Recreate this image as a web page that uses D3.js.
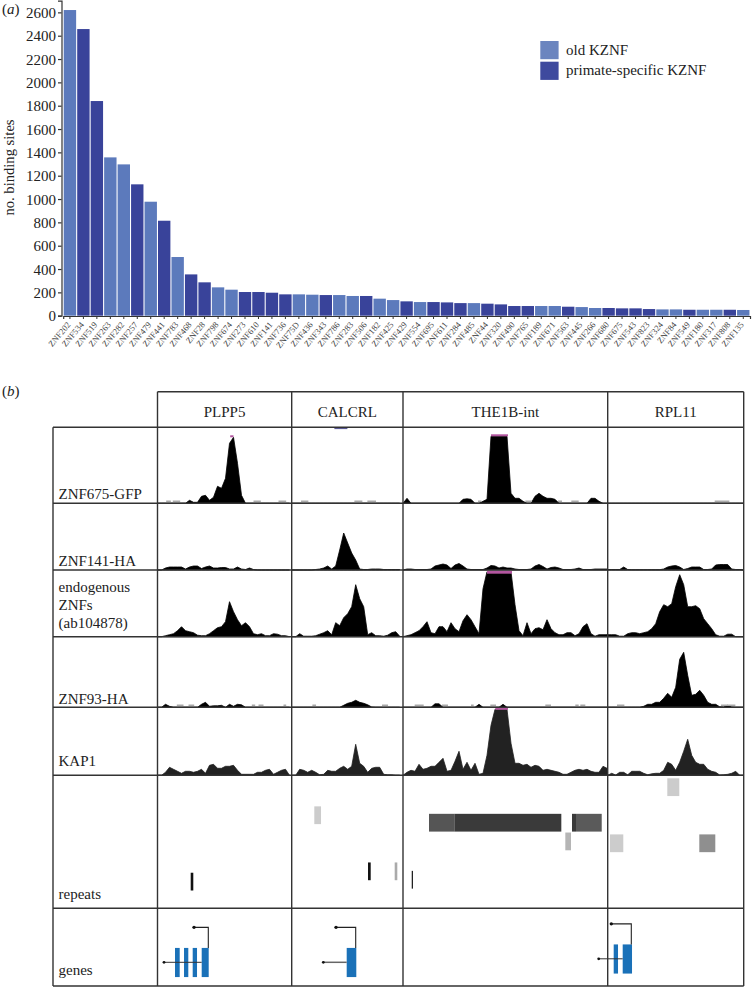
<!DOCTYPE html>
<html lang="en">
<head>
<meta charset="UTF-8">
<title>KZNF binding sites</title>
<script src="https://d3js.org/d3.v7.min.js"></script>
<style>
  html, body { margin: 0; padding: 0; background: #fff; }
  svg { display: block; }
  text { font-family: "Liberation Serif", serif; }
</style>
</head>
<body>
<script>
// panel a
const kznfNames = ["ZNF202","ZNF534","ZNF519","ZNF263","ZNF282","ZNF257","ZNF479","ZNF441","ZNF783","ZNF468","ZNF28","ZNF798","ZNF674","ZNF273","ZNF610","ZNF141","ZNF736","ZNF75D","ZNF436","ZNF343","ZNF786","ZNF283","ZNF506","ZNF182","ZNF425","ZNF429","ZNF554","ZNF695","ZNF611","ZNF284","ZNF485","ZNF44","ZNF320","ZNF490","ZNF765","ZNF189","ZNF671","ZNF563","ZNF445","ZNF266","ZNF680","ZNF675","ZNF543","ZNF823","ZNF324","ZNF84","ZNF549","ZNF180","ZNF317","ZNF808","ZNF135"];
const bindingSites = [2620,2457,1840,1357,1297,1126,977,814,503,354,286,243,223,203,203,197,183,183,180,177,177,169,169,146,134,123,117,117,114,108,108,103,97,83,83,83,83,77,74,66,66,63,63,57,54,54,51,51,51,51,49];
// 0 = old KZNF, 1 = primate-specific KZNF
const kznfAge = [0,1,1,0,0,1,0,1,0,1,1,0,0,1,1,1,1,0,0,1,0,0,1,0,0,1,0,1,1,1,0,1,1,1,1,0,0,1,0,0,1,1,1,1,0,0,1,0,0,1,0];
const ageLabels = ["old KZNF", "primate-specific KZNF"];
const yTicks = [0,200,400,600,800,1000,1200,1400,1600,1800,2000,2200,2400,2600];

// panel b
const loci = ["PLPP5", "CALCRL", "THE1B-int", "RPL11"];
const rowLabels = [["ZNF675-GFP"], ["ZNF141-HA"], ["endogenous", "ZNFs", "(ab104878)"], ["ZNF93-HA"], ["KAP1"], ["repeats"], ["genes"]];

// coverage per bin, one array per antibody and locus
const znf675Plpp5 = [0,0,0,0,0,0,0,0,3,1,1,7,8,3,6,17,15,25,60,66,40,8,0,0,0,0,0,0,0,0,0,0,0,0];
const znf675Calcrl = [0,0,0,0,0,0,0,0,0,0,0,0,0,0,0,0,0,0,0,0,0,0,0,0,0,0,0,0];
const znf675The1b = [0,5,0,0,0,0,0,0,0,0,0,0,0,0,0,4,4.5,4,0,0,2,4,67,67,67,67,67,10,5,5,2,0,0,7,10,7,5,5,4,0,0,0,0,0,0,0,0,5,5,2,0,0];
const znf675Rpl11 = [0,0,0,0,0,0,0,0,0,0,0,0,0,0,0,0,0,0,0,0,0,0,0,0,0,0,0,0,0,0,0,0,0,0,0];

const znf141Plpp5 = [0,0,2,3,3,3,3,1,3,4,4,1.5,3,4,2,2,2.5,2.5,1,1,3,1,0.5,2,0.5,0,0,0,0,0,0,0,0,0];
const znf141Calcrl = [0,0,0,0,0,0,0.5,1,2,4,1,4,20,37,27,17,10,1,0.5,0.5,1,1,1,0.5,0.5,0.5,0.5,0.5];
const znf141The1b = [0,1,1,0.5,0.5,0.5,0.5,1,4,5,6,5,1.5,5,6.5,4,1,0.5,0.5,0.5,0.5,2,4.5,4,2,3,2,2,1,0.5,0.5,0.5,1,4,5.5,3.5,1,2.5,3,2,0.5,0.5,0.5,1,2,0.5,0.5,0.5,1,1,1,1];
const znf141Rpl11 = [0.5,0.5,0.5,0.5,3,0.5,0.3,0.3,0.3,0.3,0.3,0.3,0.3,0.3,1,3,4,4.5,3,0.5,1.5,3,3,3,0.5,0.5,1,5,5.5,5.5,5.5,1,0.5,0.5,0];

const endoPlpp5 = [0,0,1,2,3,6,10,6,5,4,1.5,1,1,3,6,9,10,15,35,25,17,11,14,10,3,2,3,1,1,3,2.5,1,1,0];
const endoCalcrl = [0,0,3,0.5,0.5,0.5,1,2.5,4,6,2,14,11,19,23,30,52,38,30,2,4,1,1,0.5,1.5,4,5,0.5];
const endoThe1b = [0,1,2,4,6,10,15,4,3,10,10,5,14,8,5,16,22,17,10,3,48,65,65,65,65,65,65,65,32,6,1,14,3,8,9,7,17,8,4,2,2,4,4,1,3,10,13,3,0.5,2,2,2];
const endoRpl11 = [2,2,2,0.5,0.5,3,4,4,3,4,5,8,13,25,32,30,33,50,62,52,30,30,31,28,18,13,8,2,0.5,0.5,2.5,2.5,0,0,0];

const znf93Plpp5 = [0,0,3,1,0,0,0,0,0,0,0,3,5,1,1.5,1.5,2,0,3,1,3,2.5,0,0,0,0,0,0,0,0,0,0,0,0];
const znf93Calcrl = [0,0,0,0,0,0,0,0,0,0,0,0,0,2,4,5,7,5,4,2.5,0.3,0,0,0,0,0,0,0];
const znf93The1b = [0,0,0,0,0,0,0,0,3.5,3.5,0,0,0,0,0,0,0,0,0,3,0,0,0,0,0,3,0,0,0,0,0,0,0,0,0,0,0,0,0,0,0,0,0,0,0,0,0,0,0,0,0,0];
const znf93Rpl11 = [0,0,0,0,0,0,0,0,0,1,3,3,5,5,9,14,10,20,48,55,32,12,13,17,12,5,3,3,0.5,0.3,2,0.3,0,0,0];

const kap1Plpp5 = [0,0,3,8,6,4,2,4,4,3,4,6,2,10,11,7,7,9,9,10,5,1,1,1,1,3,3,5,6,1,3,5,6,0];
const kap1Calcrl = [0,0,6,5,3,5,3,0.5,1,5,4,4,7,9,6,9,31,12,9,3,7,8,8,1,0.5,0.5,0,0];
const kap1The1b = [0,3,5,4,11,6,7,9,9,13,17,4,5,14,24,6,13,5,12,1,2,20,50,66,66,66,66,32,12,12,10,11,8,10,9,5,6,5,4,3,1,1,3,5,6,5,6,4,3,3,9,7];
const kap1Rpl11 = [0,2,0.3,3,3,0.5,4,4,4,2,0.5,1.5,2,2,5,13,11,5,13,24,36,20,13,11,11,6,4,3,0.3,0.5,1,2,4,0,0];

// grey low-coverage stretches: [locus, from bin, to bin]
const lowZnf675 = [[0,2.17,3.33],[0,3.83,5.67],[0,24,25.83],[0,30.25,32.17],[1,2.33,4.17],[1,15.67,17.67],[1,18.92,21.08],[2,18.75,19.58],[2,30.58,32.25],[2,38.75,39.75],[2,42.08,43.92],[3,26.75,30.42]];
const lowZnf93 = [[0,4.83,6.5],[0,7.75,9.17],[0,23.58,24.42],[0,25.25,26.5],[0,31.5,32.17],[1,5.17,6.08],[1,22.58,24.08],[2,2.92,5.17],[2,9.75,11.25],[2,17,17.67],[2,21.83,23.25],[2,35.58,37],[2,43.08,43.92],[2,44.33,45.58],[3,2.33,4.17],[3,28.33,31.92]];

// clipped peak marks: [row, locus, from bin, to bin, top, bottom]
const clipMarks = [[0,0,18.17,19,68,66],[0,2,22,26.25,69,67],[2,2,21,27.25,66,63],[4,2,23.08,26.25,68,65.5]];

// repeats: [locus, from bin, to bin, lane, shade]
const repeatElements = [
  [0,8.3,8.95,5.05,"#111"],
  [1,5.65,7.33,1.5,"#ccc"],
  [1,19.08,19.75,4.5,"#111"],
  [1,25.75,26.4,4.5,"#aaa"],
  [2,2.18,2.5,4.95,"#222"],
  [2,6.5,12.83,1.9,"#555"],
  [2,12.83,39.58,1.9,"#3a3a3a"],
  [2,42.25,43.25,1.9,"#3a3a3a"],
  [2,43.25,49.68,1.9,"#5a5a5a"],
  [2,40.58,42,2.9,"#b5b5b5"],
  [3,14.9,17.9,0,"#ccc"],
  [3,0.58,3.9,3,"#ccc"],
  [3,22.9,26.9,3,"#8f8f8f"]
];

// genes: exons [locus, from bin, to bin], one intron and one TSS arrow per gene
const exons = [[0,4.375,5.55],[0,6.63,7.7],[0,8.8,9.88],[0,11.05,12.8],[1,13.75,16.15],[3,1.5,2.58],[3,3.75,6.08]];
const introns = [[0,1.63,11.05],[1,7.9,13.75],[3,-2.25,3.75]];
const tssArrows = [[0,12.7,9.13],[1,16,11.08],[3,5.9,0.9]];

const width = 752, height = 997;
const svg = d3.select("body").append("svg").attr("width", width).attr("height", height);

// ---------- panel a ----------
const x = d3.scaleBand().domain(kznfNames).range([63.2, 750]).paddingInner(0.08).paddingOuter(0.04);
const y = d3.scaleLinear().domain([0, 2700]).range([315.7, 0.7]);
const ageColor = d3.scaleOrdinal().domain([0, 1]).range(["#5c7abc", "#39439a"]);

svg.selectAll("rect.bar").data(kznfNames).enter().append("rect")
  .attr("class", "bar")
  .attr("x", d => x(d))
  .attr("y", (d, i) => y(bindingSites[i]))
  .attr("width", x.bandwidth())
  .attr("height", (d, i) => y(0) - y(bindingSites[i]))
  .attr("fill", (d, i) => ageColor(kznfAge[i]));

const yAxis = svg.append("g").attr("transform", "translate(61.5,0)")
  .call(d3.axisLeft(y).tickValues(yTicks).tickSize(3.5).tickFormat(d3.format("d")));
yAxis.selectAll("text").attr("font-size", 15).attr("fill", "#222").attr("x", -5.5).attr("dy", "0.34em")
  .style("font-family", '"Liberation Serif", serif');
yAxis.selectAll("line,path").attr("stroke", "#333").attr("stroke-width", 1.2);

const xAxis = svg.append("g").attr("transform", "translate(0,316)")
  .call(d3.axisBottom(x).tickSize(3));
xAxis.selectAll("line,path").attr("stroke", "#333");
xAxis.select("path").attr("stroke-width", 1.2);
xAxis.selectAll("text")
  .attr("font-size", 8.6).attr("fill", "#444")
  .style("font-family", '"Liberation Serif", serif')
  .attr("text-anchor", "end")
  .attr("x", 0).attr("y", 0).attr("dy", 0)
  .attr("transform", "translate(1,9) rotate(-50)");

svg.append("text").attr("transform", "translate(13.5,167.5) rotate(-90)")
  .attr("text-anchor", "middle").attr("font-size", 14.6).attr("fill", "#222").text("no. binding sites");

function panelTag(letter, ty) {
  const t = svg.append("text").attr("x", 2).attr("y", ty).attr("font-size", 15).attr("fill", "#222");
  t.append("tspan").text("(");
  t.append("tspan").attr("font-style", "italic").text(letter);
  t.append("tspan").text(")");
}
panelTag("a", 14);
panelTag("b", 396);

// legend
const legend = svg.selectAll("g.legend").data(ageLabels).enter().append("g").attr("class", "legend")
  .attr("transform", (d, i) => `translate(540.3,${41 + i * 20.7})`);
legend.append("rect").attr("width", 18.3).attr("height", 18.2)
  .attr("fill", (d, i) => ["#6b85bf", "#3e4a9e"][i]);
legend.append("text").attr("x", 25.7).attr("y", 13.7).attr("font-size", 15).attr("fill", "#222").text(d => d);

// ---------- panel b ----------
const colEdges = [157.5, 291.7, 403, 607.7, 743.7];
const rowEdges = [427.3, 503.3, 570, 636.7, 707.3, 775.3, 908.3, 986];
const headerTop = 391.7, tableLeft = 53;
const binWidth = 4; // one bin of coverage is drawn 4 px wide

const binX = loci.map((l, i) => d3.scaleLinear()
  .domain([0, (colEdges[i + 1] - colEdges[i]) / binWidth])
  .range([colEdges[i], colEdges[i + 1]]));
const signalY = rowEdges.slice(1, 6).map(b => d3.scaleLinear().domain([0, 100]).range([b, b - 100]));

const coverage = [
  [znf675Plpp5, znf675Calcrl, znf675The1b, znf675Rpl11],
  [znf141Plpp5, znf141Calcrl, znf141The1b, znf141Rpl11],
  [endoPlpp5, endoCalcrl, endoThe1b, endoRpl11],
  [znf93Plpp5, znf93Calcrl, znf93The1b, znf93Rpl11],
  [kap1Plpp5, kap1Calcrl, kap1The1b, kap1Rpl11]
];

coverage.forEach((rowTracks, r) => {
  rowTracks.forEach((values, c) => {
    const area = d3.area()
      .x((d, i) => binX[c](i))
      .y0(signalY[r](0))
      .y1(d => signalY[r](d));
    const col = r === 4 ? "#222" : "#000";
    // thin stroke of the same colour widens the peaks a little
    svg.append("path").datum(values).attr("d", area)
      .attr("fill", col).attr("stroke", col).attr("stroke-width", 0.8).attr("stroke-linejoin", "round");
  });
});

// low coverage dashes
[[0, lowZnf675], [3, lowZnf93]].forEach(([r, list]) => {
  svg.selectAll(null).data(list).enter().append("rect")
    .attr("x", d => binX[d[0]](d[1]))
    .attr("width", d => binX[d[0]](d[2]) - binX[d[0]](d[1]))
    .attr("y", signalY[r](2.8))
    .attr("height", 1.5)
    .attr("fill", "#aaa");
});

// top of the CALCRL cell, ZNF675 row
svg.append("rect").attr("x", binX[1](10.67)).attr("width", binX[1](13.92) - binX[1](10.67))
  .attr("y", signalY[0](75.6)).attr("height", 1.4).attr("fill", "#5b5b96");

svg.selectAll("rect.clip").data(clipMarks).enter().append("rect")
  .attr("class", "clip")
  .attr("x", d => binX[d[1]](d[2]))
  .attr("width", d => binX[d[1]](d[3]) - binX[d[1]](d[2]))
  .attr("y", d => signalY[d[0]](d[4]))
  .attr("height", d => signalY[d[0]](d[5]) - signalY[d[0]](d[4]))
  .attr("fill", "#b2569f");

// repeats
const laneY = d3.scaleLinear().domain([0, 1]).range([778.3, 797]);
svg.selectAll("rect.repeat").data(repeatElements).enter().append("rect")
  .attr("class", "repeat")
  .attr("x", d => binX[d[0]](d[1]))
  .attr("width", d => binX[d[0]](d[2]) - binX[d[0]](d[1]))
  .attr("y", d => laneY(d[3]))
  .attr("height", laneY(0.95) - laneY(0))
  .attr("fill", d => d[4]);

// genes
const geneY = d3.scaleLinear().domain([0, 1]).range([rowEdges[6], rowEdges[7]]);
const geneShift = c => (c === 3 ? -0.045 : 0); // RPL11 sits a little higher
svg.selectAll("rect.exon").data(exons).enter().append("rect")
  .attr("class", "exon")
  .attr("x", d => binX[d[0]](d[1]))
  .attr("width", d => binX[d[0]](d[2]) - binX[d[0]](d[1]))
  .attr("y", d => geneY(0.51 + geneShift(d[0])))
  .attr("height", geneY(0.885) - geneY(0.51))
  .attr("fill", "#1a71b8");

svg.selectAll("line.intron").data(introns).enter().append("line")
  .attr("class", "intron")
  .attr("x1", d => binX[d[0]](d[1]))
  .attr("x2", d => binX[d[0]](d[2]))
  .attr("y1", d => geneY(0.695 + geneShift(d[0])))
  .attr("y2", d => geneY(0.695 + geneShift(d[0])))
  .attr("stroke", d => (d[0] === 1 ? "#666" : "#333")).attr("stroke-width", d => (d[0] === 1 ? 1.5 : 1));

svg.selectAll("circle.intronEnd").data(introns).enter().append("circle")
  .attr("class", "intronEnd")
  .attr("cx", d => binX[d[0]](d[1]))
  .attr("cy", d => geneY(0.695 + geneShift(d[0])))
  .attr("r", 1.4)
  .attr("fill", "#111");

svg.selectAll("path.tss").data(tssArrows).enter().append("path")
  .attr("class", "tss")
  .attr("d", d => {
    const x0 = binX[d[0]](d[1]), x1 = binX[d[0]](d[2]);
    const s = geneShift(d[0]);
    const yb = geneY(0.51 + s), yt = geneY(0.245 + s);
    return `M${x0},${yb}V${yt}H${x1}`;
  })
  .attr("fill", "none").attr("stroke", "#222").attr("stroke-width", 1.1);

svg.selectAll("circle.tssHead").data(tssArrows).enter().append("circle")
  .attr("class", "tssHead")
  .attr("cx", d => binX[d[0]](d[2]))
  .attr("cy", d => geneY(0.245 + geneShift(d[0])))
  .attr("r", 1.7)
  .attr("fill", "#111");

// table grid
const grid = svg.append("g").attr("stroke", "#333").attr("stroke-width", 1.4);
grid.selectAll("line.h").data(rowEdges).enter().append("line")
  .attr("x1", tableLeft).attr("x2", colEdges[4]).attr("y1", d => d).attr("y2", d => d);
grid.append("line").attr("x1", colEdges[0]).attr("x2", colEdges[4]).attr("y1", headerTop).attr("y2", headerTop);
grid.selectAll("line.v").data(colEdges).enter().append("line")
  .attr("x1", d => d).attr("x2", d => d).attr("y1", headerTop).attr("y2", rowEdges[7]);
grid.append("line").attr("x1", tableLeft).attr("x2", tableLeft).attr("y1", rowEdges[0]).attr("y2", rowEdges[7]);

// header and row labels
svg.selectAll("text.locus").data(loci).enter().append("text")
  .attr("class", "locus")
  .attr("x", (d, i) => (colEdges[i] + colEdges[i + 1]) / 2)
  .attr("y", 417.3).attr("text-anchor", "middle").attr("font-size", 15).attr("fill", "#222").text(d => d);

const labelBaselines = [[499], [565.7], [591.7, 609.5, 628.3], [704], [766], [898.7], [975]];
rowLabels.forEach((lines, r) => {
  lines.forEach((line, k) => {
    svg.append("text").attr("x", 58.5).attr("y", labelBaselines[r][k])
      .attr("font-size", 15).attr("fill", "#222").text(line);
  });
});
</script>
</body>
</html>
